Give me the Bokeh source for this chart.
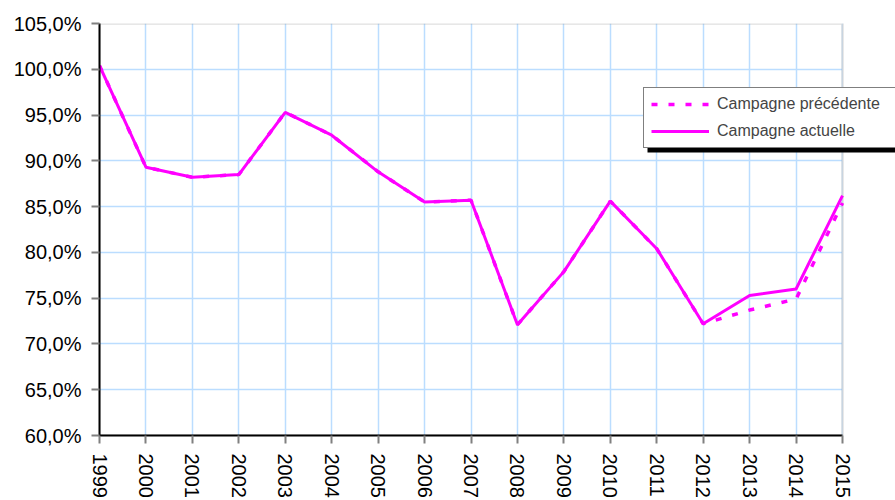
from bokeh.plotting import figure
from bokeh.models import Range1d, FixedTicker, Legend, LegendItem, BoxAnnotation
from bokeh.embed import file_html
from bokeh.resources import INLINE

years = [1999, 2000, 2001, 2002, 2003, 2004, 2005, 2006, 2007, 2008,
         2009, 2010, 2011, 2012, 2013, 2014, 2015]
campagne_actuelle = [100.4, 89.3, 88.2, 88.5, 95.3, 92.8, 88.8, 85.5, 85.7, 72.1,
                     77.9, 85.6, 80.4, 72.2, 75.3, 76.0, 86.2]
campagne_precedente = [100.4, 89.3, 88.2, 88.5, 95.3, 92.8, 88.8, 85.5, 85.7, 72.1,
                       77.9, 85.6, 80.4, 72.2, 73.7, 74.9, 85.4]
y_ticks = [60, 65, 70, 75, 80, 85, 90, 95, 100, 105]
y_tick_labels = ["60,0%", "65,0%", "70,0%", "75,0%", "80,0%", "85,0%",
                 "90,0%", "95,0%", "100,0%", "105,0%"]
x_tick_labels = [str(y) for y in years]

FONT = "Liberation Sans"
MAGENTA = "#FF00FF"
GRID = "#BBDDFF"

W, H = 895, 500
LEFT, RIGHT_DATA_PX, TOP, BOTTOM = 99, 842, 23, 439
px_per_year = (RIGHT_DATA_PX - LEFT) / (years[-1] - years[0])
x_end = years[-1] + (W - RIGHT_DATA_PX) / px_per_year

p = figure(width=W, height=H, output_backend="svg", toolbar_location=None,
           x_range=Range1d(years[0], x_end), y_range=Range1d(y_ticks[0], y_ticks[-1]),
           min_border_left=LEFT, min_border_right=0, min_border_top=TOP,
           min_border_bottom=H - BOTTOM)

p.outline_line_color = None
p.background_fill_color = "white"
p.border_fill_color = "white"

p.xaxis.ticker = FixedTicker(ticks=years)
p.xaxis.major_label_overrides = {y: l for y, l in zip(years, x_tick_labels)}
p.xaxis.bounds = (years[0], years[-1])
p.yaxis.ticker = FixedTicker(ticks=y_ticks)
p.yaxis.major_label_overrides = {t: l for t, l in zip(y_ticks, y_tick_labels)}

for ax in (p.xaxis, p.yaxis):
    ax.axis_line_color = "black"
    ax.axis_line_width = 2
    ax.major_tick_line_color = "#808080"
    ax.major_tick_line_width = 2
    ax.major_tick_out = 8
    ax.major_tick_in = 0
    ax.minor_tick_line_color = None
    ax.major_label_text_font = FONT
    ax.major_label_text_font_size = "20px"
    ax.major_label_text_color = "black"

p.xaxis.major_label_orientation = "vertical"
p.xaxis.major_label_standoff = 10
p.yaxis.major_label_standoff = 10

p.xgrid.ticker = FixedTicker(ticks=years)
p.ygrid.ticker = FixedTicker(ticks=y_ticks)
p.grid.grid_line_color = GRID
p.grid.grid_line_width = 1.5

# white area to the right of the plot area (the legend overhangs it)
cover = BoxAnnotation(left=years[-1], fill_color="white", fill_alpha=1.0,
                      line_color=None, level="underlay")
p.add_layout(cover)
border = BoxAnnotation(left=years[0], right=years[-1], bottom=y_ticks[0], top=y_ticks[-1],
                       fill_alpha=0, line_color="#999999", line_width=2.5,
                       level="underlay")
p.add_layout(border)

r_prev = p.line(years, campagne_precedente, line_color=MAGENTA, line_width=3.5,
                line_dash="6 11")
r_cur = p.line(years, campagne_actuelle, line_color=MAGENTA, line_width=3)

shadow = BoxAnnotation(left=647, right=W + 10, top=92, bottom=152,
                       left_units="canvas", right_units="canvas",
                       top_units="canvas", bottom_units="canvas",
                       fill_color="black", fill_alpha=1.0, line_color=None)
p.add_layout(shadow)

LEG_LEFT, LEG_BOTTOM = 643, 147
legend = Legend(items=[LegendItem(label="Campagne précédente", renderers=[r_prev]),
                       LegendItem(label="Campagne actuelle", renderers=[r_cur])],
                location=(LEG_LEFT - LEFT, BOTTOM - LEG_BOTTOM - 5),
                orientation="vertical",
                padding=7, spacing=9, margin=0,
                glyph_width=58, glyph_height=16, label_height=16, label_width=178,
                label_standoff=8,
                label_text_font=FONT, label_text_font_size="16px",
                border_line_color="black", border_line_width=1,
                background_fill_color="white", background_fill_alpha=1.0)
p.add_layout(legend, "center")

open("out.html", "w").write(file_html(p, INLINE))
